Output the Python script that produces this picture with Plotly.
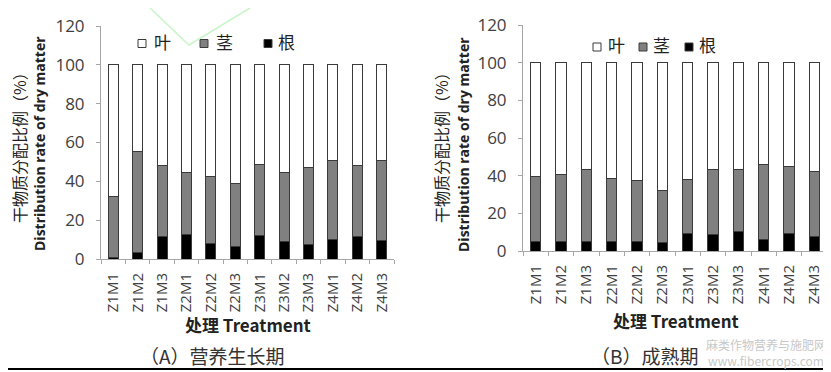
import plotly.graph_objects as go

# The page body has an 8px default margin, so the figure is drawn 8px in
# from the top-left of the window; layout positions below are given in
# window pixels and converted with that offset.
OFF = 8
W, H = 831 - OFF, 372 - OFF

categories = ["Z1M1", "Z1M2", "Z1M3", "Z2M1", "Z2M2", "Z2M3",
              "Z3M1", "Z3M2", "Z3M3", "Z4M1", "Z4M2", "Z4M3"]

# (A) vegetative growth stage
root_A = [1.0, 3.1, 11.5, 12.8, 7.8, 6.6, 12.2, 9.1, 7.4, 10.0, 11.5, 9.7]
stem_A = [31.1, 52.2, 36.6, 31.5, 34.6, 32.5, 36.6, 35.6, 39.7, 40.9, 36.6, 40.8]
leaf_A = [100 - r - s for r, s in zip(root_A, stem_A)]

# (B) maturity stage
root_B = [4.8, 5.3, 4.8, 4.8, 5.3, 4.4, 9.2, 8.7, 10.1, 5.9, 9.2, 7.5]
stem_B = [34.5, 35.4, 38.7, 33.9, 32.2, 27.9, 28.6, 34.5, 33.1, 39.9, 35.9, 34.8]
leaf_B = [100 - r - s for r, s in zip(root_B, stem_B)]

series_names = ["根", "茎", "叶"]
series_colors = ["#000000", "#808080", "#ffffff"]
y_ticks = [0, 20, 40, 60, 80, 100, 120]

FONT = "Open Sans, Noto Sans CJK SC, sans-serif"
CJK = "Noto Sans CJK SC, sans-serif"
EDGE = "#3a3a3a"


def px_x(p):
    return (p - OFF) / W


def px_y(p):
    return 1 - (p - OFF) / H


fig = go.Figure()

panels = [
    ("x", "y", [root_A, stem_A, leaf_A]),
    ("x2", "y2", [root_B, stem_B, leaf_B]),
]
for xa, ya, vals in panels:
    for name, color, v in zip(series_names, series_colors, vals):
        fig.add_trace(go.Bar(
            x=categories, y=v, name=name, xaxis=xa, yaxis=ya, showlegend=False,
            marker=dict(color=color, line=dict(color=EDGE, width=1)),
        ))

axis_common = dict(showline=True, linecolor="#a6a6a6", linewidth=1,
                   ticks="outside", ticklen=4, tickcolor="#a6a6a6",
                   showgrid=False, zeroline=False)
xcommon = dict(axis_common, type="category", categoryorder="array",
               categoryarray=categories, tickson="boundaries", tickangle=-90,
               tickfont=dict(family=FONT, size=15, color="#404040"),
               ticklabelstandoff=7)
ycommon = dict(axis_common, range=[0, 120], tickvals=y_ticks,
               tickfont=dict(family=FONT, size=17, color="#404040"),
               ticklabelstandoff=8)

fig.update_layout(
    width=W, height=H,
    margin=dict(l=0, r=0, t=0, b=0, autoexpand=False),
    paper_bgcolor="white", plot_bgcolor="white",
    barmode="stack", bargap=0.59,
    showlegend=False,
    xaxis=dict(xcommon, domain=[px_x(101), px_x(394)], anchor="y"),
    yaxis=dict(ycommon, domain=[px_y(259), px_y(26)], anchor="x"),
    xaxis2=dict(xcommon, domain=[px_x(523), px_x(827)], anchor="y2"),
    yaxis2=dict(ycommon, domain=[px_y(251), px_y(25)], anchor="x2"),
)


def ann(text, x, y, size, family=CJK, color="#222", angle=0, xanchor="center"):
    return dict(text=text, x=px_x(x), y=px_y(y), xref="paper", yref="paper",
                showarrow=False, textangle=angle, xanchor=xanchor, yanchor="middle",
                font=dict(family=family, size=size, color=color))


annotations = []
shapes = []
for x1, x2, xc, yc in [(19, 39, 248, 324), (441, 463, 676, 320)]:
    annotations.append(ann("干物质分配比例（%）", x1, 144, 16, angle=-90))
    annotations.append(ann("<b>Distribution rate of dry matter</b>", x2, 144, 14,
                           family=FONT, angle=-90))
    annotations.append(ann("<b>处理 Treatment</b>", xc, yc, 17))
annotations.append(ann("（A）营养生长期", 212, 355, 19, color="#333"))
annotations.append(ann("（B）成熟期", 644, 355, 19, color="#333"))
annotations.append(ann("麻类作物营养与施肥网<br>www.fibercrops.com", 766, 352, 12,
                       color="#c8c8c8"))

# legends: (box left x, box center y, text left x, text center y)
legend_layouts = [
    [(138, 43.5, 152, 41.5), (200, 43.5, 214, 41.5), (264, 43.5, 276, 41.5)],
    [(593, 47, 606, 45), (639, 47, 651, 45), (685, 47, 697, 45)],
]
legend_order = [2, 1, 0]  # 叶, 茎, 根
for layout_row in legend_layouts:
    for (bx, by, tx, ty), idx in zip(layout_row, legend_order):
        shapes.append(dict(type="rect", xref="paper", yref="paper",
                           x0=px_x(bx), x1=px_x(bx + 8), y0=px_y(by + 4), y1=px_y(by - 4),
                           fillcolor=series_colors[idx], line=dict(color=EDGE, width=1)))
        annotations.append(ann(series_names[idx], tx, ty, 17, xanchor="left"))

shapes.append(dict(type="line", xref="paper", yref="paper", x0=0, x1=1,
                   y0=px_y(369), y1=px_y(369), line=dict(color="#000", width=2)))
shapes.append(dict(type="path", xref="paper", yref="paper",
                   path=f"M {px_x(150)},{px_y(8)} L {px_x(189)},{px_y(45)} L {px_x(250)},{px_y(8)}",
                   line=dict(color="#c8f5c8", width=1.5)))

fig.update_layout(annotations=annotations, shapes=shapes)

fig.write_html("out.html")
